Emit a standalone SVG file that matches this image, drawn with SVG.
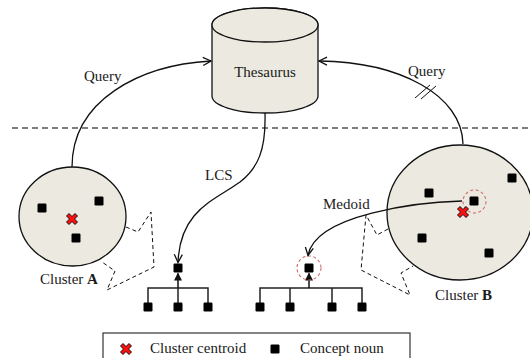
<svg xmlns="http://www.w3.org/2000/svg" width="530" height="358" viewBox="0 0 530 358">
<defs>
<style>
text{font-family:"Liberation Serif","Times New Roman",serif;font-size:15px;fill:#1a1a1a}
.fill{fill:#ECEAE0;stroke:#111;stroke-width:1.3}
.edge{fill:none;stroke:#111;stroke-width:1.3}
.dash{fill:none;stroke:#111;stroke-width:1;stroke-dasharray:4,3}
.sq{fill:#000}
.tree{fill:none;stroke:#222;stroke-width:1.5}
.ring{fill:none;stroke:#d06a6a;stroke-width:1.1;stroke-dasharray:3,2.5}
</style>
<marker id="open" markerWidth="12" markerHeight="12" refX="9" refY="5" orient="auto" markerUnits="userSpaceOnUse">
<path d="M1,1 L9,5 L1,9" fill="none" stroke="#111" stroke-width="1.3"/>
</marker>
<marker id="tri" markerWidth="10" markerHeight="10" refX="7" refY="4" orient="auto" markerUnits="userSpaceOnUse">
<path d="M0,0 L8,4 L0,8 Z" fill="#111"/>
</marker>
<path id="xmark" d="M-5.5,-3 L-3,-5.5 L0,-2.5 L3,-5.5 L5.5,-3 L2.5,0 L5.5,3 L3,5.5 L0,2.5 L-3,5.5 L-5.5,3 L-2.5,0 Z" fill="#ff1010" stroke="#000" stroke-width="0.9" stroke-linejoin="round"/>
</defs>

<line x1="12" y1="128" x2="530" y2="128" stroke="#555" stroke-width="1.3" stroke-dasharray="6,4"/>

<g id="thesaurus">
<path class="fill" d="M212,25 L212,96 A53,17 0 0 0 318,96 L318,25 A53,17 0 0 0 212,25 Z"/>
<ellipse class="fill" cx="265" cy="25" rx="53" ry="17"/>
<text x="265" y="77" text-anchor="middle">Thesaurus</text>
</g>

<g id="clusterA">
<ellipse class="fill" cx="72.5" cy="216.5" rx="53.5" ry="49.5"/>
<rect class="sq" x="37.5" y="203.5" width="9" height="9" rx="1.2"/>
<rect class="sq" x="94.5" y="196.5" width="9" height="9" rx="1.2"/>
<rect class="sq" x="71.5" y="233.5" width="9" height="9" rx="1.2"/>
<use href="#xmark" x="72" y="219"/>
<text x="40" y="284">Cluster <tspan font-weight="bold">A</tspan></text>
</g>

<g id="clusterB">
<ellipse class="fill" cx="460" cy="212.5" rx="73" ry="67.5"/>
<rect class="sq" x="424.5" y="188.5" width="9" height="9" rx="1.2"/>
<rect class="sq" x="507.5" y="173.5" width="9" height="9" rx="1.2"/>
<rect class="sq" x="469.5" y="196.5" width="9" height="9" rx="1.2"/>
<rect class="sq" x="417.5" y="233.5" width="9" height="9" rx="1.2"/>
<rect class="sq" x="484.5" y="248.5" width="9" height="9" rx="1.2"/>
<circle class="ring" cx="474.5" cy="201.5" r="11.5"/>
<use href="#xmark" x="463" y="212"/>
<text x="435" y="300">Cluster <tspan font-weight="bold">B</tspan></text>
</g>

<g id="treeLeft">
<path class="tree" d="M148,307 V288 H208 V307 M178,288 V307"/>
<line x1="178" y1="288" x2="178" y2="273.5" stroke="#111" stroke-width="1.5" marker-end="url(#tri)"/>
<rect class="sq" x="173.5" y="263.5" width="9" height="9" rx="1.2"/>
<rect class="sq" x="143.5" y="302.5" width="9" height="9" rx="1.2"/>
<rect class="sq" x="173.5" y="302.5" width="9" height="9" rx="1.2"/>
<rect class="sq" x="203.5" y="302.5" width="9" height="9" rx="1.2"/>
</g>

<g id="treeRight">
<path class="tree" d="M260,307 V288 H362 V307 M290,288 V307 M332,288 V307"/>
<line x1="309" y1="288" x2="309" y2="273.5" stroke="#111" stroke-width="1.5" marker-end="url(#tri)"/>
<rect class="sq" x="304.5" y="263.5" width="9" height="9" rx="1.2"/>
<circle class="ring" cx="309" cy="268" r="12"/>
<rect class="sq" x="255.5" y="302.5" width="9" height="9" rx="1.2"/>
<rect class="sq" x="285.5" y="302.5" width="9" height="9" rx="1.2"/>
<rect class="sq" x="327.5" y="302.5" width="9" height="9" rx="1.2"/>
<rect class="sq" x="357.5" y="302.5" width="9" height="9" rx="1.2"/>
</g>

<g id="connectors">
<path class="edge" d="M72,167 C72,100 140,65 211,61" marker-end="url(#open)"/>
<text x="84" y="81">Query</text>
<path class="edge" d="M463,144 C462,95 400,62 319,61" marker-end="url(#open)"/>
<line x1="415" y1="98" x2="430" y2="85" stroke="#111" stroke-width="1"/>
<line x1="421" y1="99" x2="436" y2="86" stroke="#111" stroke-width="1"/>
<text x="408" y="76">Query</text>
<path class="edge" d="M265,113 C266,150 258,168 240,182 C215,200 180,210 178,262.5" marker-end="url(#open)"/>
<text x="205" y="180">LCS</text>
<path class="edge" d="M462,201 C420,202 315,214 308,255.5" marker-end="url(#open)"/>
<text x="323" y="209">Medoid</text>
<polyline class="dash" points="126,227 138,232 151,212 154,267 107,290 115,271 102,262"/>
<polyline class="dash" points="388,229 377,235 366,215 361,270 410,295 401,273 413,266"/>
</g>

<g id="legend">
<rect x="103" y="333" width="307" height="30" fill="#fff" stroke="#333" stroke-width="1.2"/>
<use href="#xmark" x="126" y="349"/>
<text x="150" y="353">Cluster centroid</text>
<rect class="sq" x="270.5" y="344.5" width="9" height="9" rx="1.2"/>
<text x="300" y="353">Concept noun</text>
</g>
</svg>
